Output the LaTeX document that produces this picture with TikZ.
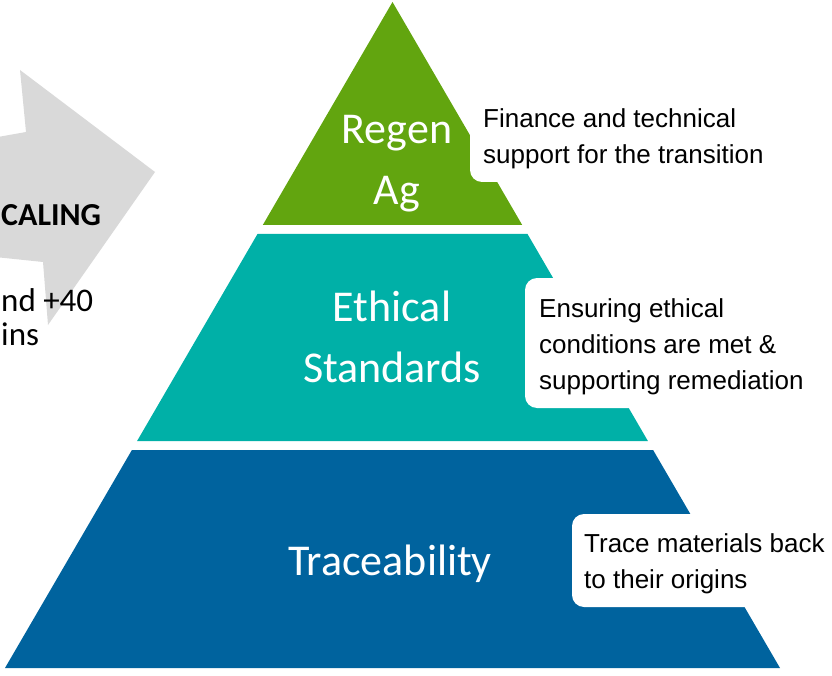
\documentclass[tikz,border=0pt]{standalone}
\usepackage{fontspec}
\setmainfont{Carlito}
\newfontfamily\arialf{Liberation Sans}
\definecolor{regengreen}{RGB}{98,165,15}
\definecolor{ethteal}{RGB}{0,176,167}
\definecolor{tracblue}{RGB}{0,99,158}
\definecolor{arrowgray}{RGB}{217,217,217}
\begin{document}
\begin{tikzpicture}[x=1pt,y=-1pt,
  tierlabel/.style={text=white, font=\fontsize{44}{61}\selectfont, align=center, inner sep=0pt},
  callout/.style={fill=white, draw=none, rounded corners=12pt},
  calltext/.style={font=\arialf\fontsize{26}{36}\selectfont, align=left, inner sep=0pt, anchor=north west, text=black},
  armtext/.style={font=\fontsize{33}{36}\selectfont, inner sep=0pt, anchor=base west, text=black}]
\useasboundingbox (0,0) rectangle (832,676);
\clip (0,0) rectangle (832,676);
% grey arrow
\fill[arrowgray] (-5,137.5) -- (26,132) -- (20,70) -- (155,172) -- (48,325) -- (43,262) -- (-5,257) -- cycle;
\node[armtext, font=\bfseries\fontsize{32}{36}\selectfont] (scal) at (1,226) {CALING};
\node[armtext] (n40) at (1,311) {nd +40};
\node[armtext] (ins) at (1,345) {ins};
% tiers
\fill[regengreen] (392.5,2) -- (522.2,225) -- (262.8,225) -- cycle;
\fill[ethteal] (257.5,234) -- (527.5,234) -- (647.9,441) -- (137.1,441) -- cycle;
\fill[tracblue] (131.9,450) -- (653.1,450) -- (780,668) -- (5,668) -- cycle;
% callout boxes
\fill[callout] (470,88) rectangle (780,182);
\fill[callout] (525,278) rectangle (815,408);
\fill[callout] (572,514) rectangle (850,607);
% tier labels
\node[tierlabel] (regen) at (397,164) {Regen\\Ag};
\node[tierlabel] (ethical) at (392,337) {Ethical\\Standards};
\node[tierlabel] (trace) at (390,564) {Traceability};
% callout texts
\node[calltext] (fin) at (483,108) {Finance and technical\\support for the transition};
\node[calltext] (ens) at (539,298) {Ensuring ethical\\conditions are met \&\\supporting remediation};
\node[calltext] (trc) at (584,533) {Trace materials back\\to their origins};
\end{tikzpicture}
\end{document}
